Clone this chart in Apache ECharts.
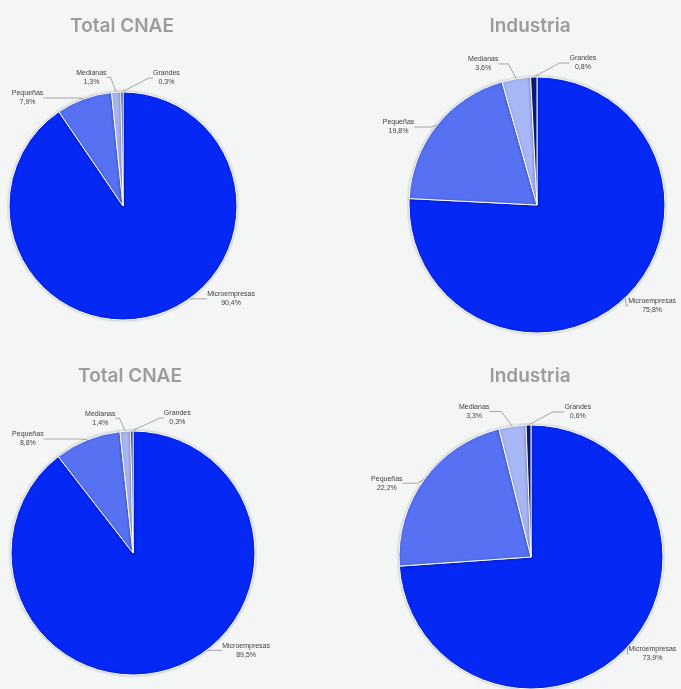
<!DOCTYPE html>
<html>
<head>
<meta charset="utf-8">
<script src="https://cdn.jsdelivr.net/npm/echarts@6/dist/echarts.min.js"></script>
<style>
html,body{margin:0;padding:0;background:#f4f5f5;}
#c{width:681px;height:689px;}
</style>
</head>
<body>
<div id="c"></div>
<script>
const categories = ['Microempresas', 'Pequeñas', 'Medianas', 'Grandes'];
const totalCnaeTop = [90.4, 7.9, 1.3, 0.3];
const industriaTop = [75.8, 19.8, 3.6, 0.8];
const totalCnaeBottom = [89.5, 8.8, 1.4, 0.3];
const industriaBottom = [73.9, 22.2, 3.3, 0.6];
const titles = ['Total CNAE', 'Industria', 'Total CNAE', 'Industria'];

const colors = ['#0628f4', '#5671f2', '#a7b6f4', '#0b1a78'];

const layouts = [
  {center: [123, 206], r: 114, tx: 117, ty: 24},
  {center: [537, 205], r: 128, tx: 525, ty: 24},
  {center: [133, 553], r: 122, tx: 125, ty: 374},
  {center: [531, 557], r: 132, tx: 525, ty: 374}
];
// per chart, per slice: [labelLine length, length2, dx, dy]
const labelTweaks = [
  [[2, 28, 17, -18], [2, 35, 0, 1], [10, 4, 0, -5], [10, 4, 67, -4]],
  [[0, 2, -4, 8], [2, 16, 0, 3], [17, 10, 0, 2], [17, 10, 78, 3]],
  [[2, 35, 9, -20], [2, 38, 0, 1], [14, 4, 0, 1], [14, 4, 68, 1]],
  [[0, 2, -6, 7], [2, 15, 0, 5], [15, 12, -4, 0], [15, 12, 80, 2]]
];
const datasets = [totalCnaeTop, industriaTop, totalCnaeBottom, industriaBottom];

function fmt(v) { return v.toFixed(1).replace('.', ',') + '%'; }

const series = datasets.map((vals, i) => ({
  type: 'pie',
  center: layouts[i].center,
  radius: [0, layouts[i].r],
  startAngle: 90,
  clockwise: true,
  avoidLabelOverlap: false,
  data: categories.map((c, k) => ({
    name: c, value: vals[k],
    itemStyle: {color: colors[k]},
    labelLine: {length: labelTweaks[i][k][0], length2: labelTweaks[i][k][1]}
  })),
  itemStyle: {borderColor: '#ffffff', borderWidth: 1, shadowBlur: 3, shadowColor: 'rgba(0,0,0,0.25)'},
  label: {
    show: true, position: 'outside',
    formatter: p => p.name + '\n' + fmt(p.value),
    fontSize: 7, lineHeight: 9, color: '#404040', fontFamily: 'Liberation Sans, Arial',
    align: 'center'
  },
  labelLine: {show: true, lineStyle: {color: '#a6a6a6', width: 1}},
  labelLayout: function (p) {
    const t = labelTweaks[i][p.dataIndex];
    const r = p.labelRect;
    if (!t[2] && !t[3]) return {};
    return {
      x: r.x + r.width / 2 + t[2],
      y: r.y + r.height / 2 + t[3],
      align: 'center', verticalAlign: 'middle'
    };
  },
  emphasis: {disabled: true}
}));

const chart = echarts.init(document.getElementById('c'), null, {renderer: 'canvas'});
chart.setOption({
  backgroundColor: '#f4f5f5',
  animation: false,
  title: layouts.map((l, i) => ({
    text: titles[i], left: l.tx, top: l.ty - 12, textAlign: 'center',
    textStyle: {fontSize: 19, fontWeight: 600, color: '#9c9c9c', fontFamily: 'Inter, Roboto, sans-serif'}
  })),
  series: series
});
</script>
</body>
</html>
